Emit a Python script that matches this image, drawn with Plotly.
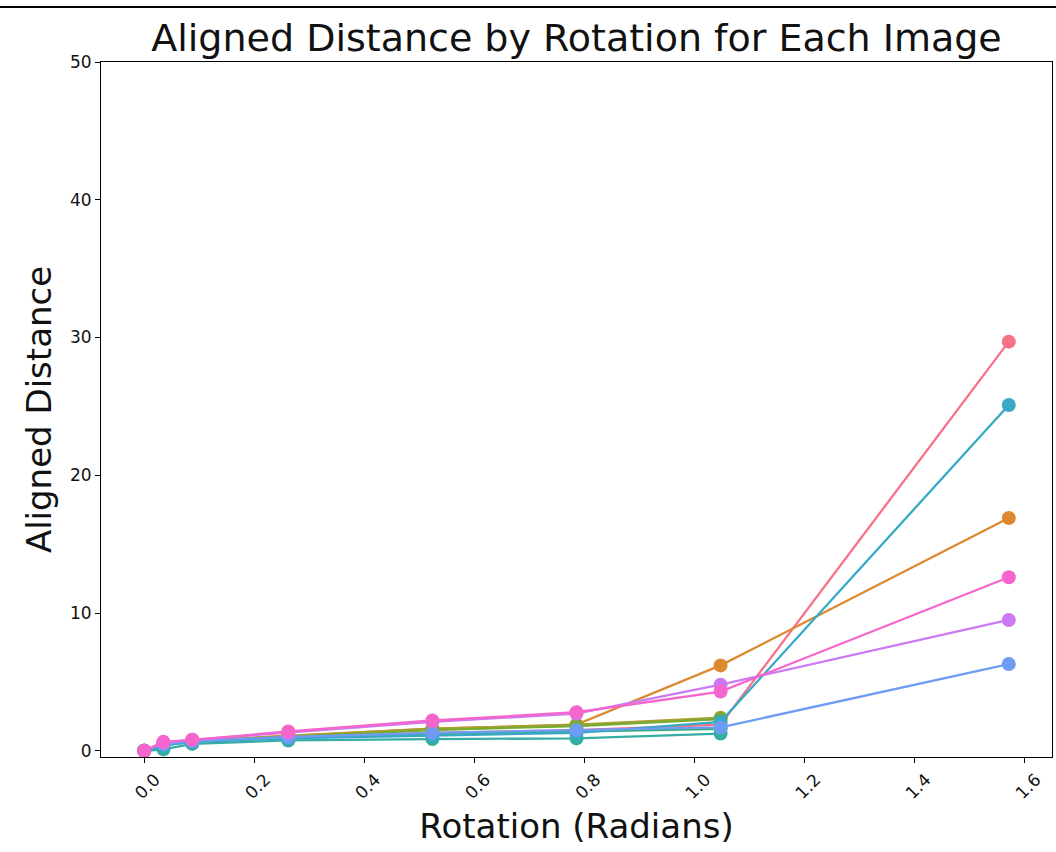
import plotly.graph_objects as go

rotation = [0.0, 0.0349, 0.0873, 0.2618, 0.5236, 0.7854, 1.0472, 1.5708]

series_names = ["img0", "img1", "img2", "img3", "img4", "img5", "img6", "img7", "img8", "img9"]
series_colors = ["#f77189", "#dc8932", "#ae9d31", "#77ab31", "#33b07a",
                 "#36ada4", "#38a9c5", "#6e9bf4", "#cc7af4", "#f565cc"]

img0 = [0, 0.45, 0.70, 1.00, 1.30, 1.50, 1.90, 29.7]
img1 = [0, 0.50, 0.75, 1.10, 1.60, 1.90, 6.20, 16.9]
img2 = [0, 0.50, 0.70, 1.05, 1.60, 1.90, 2.40, None]
img3 = [0, 0.45, 0.70, 1.00, 1.50, 1.80, 2.30, None]
img4 = [0, 0.40, 0.65, 0.95, 1.20, 1.40, 1.60, None]
img5 = [0, 0.10, 0.50, 0.75, 0.85, 0.90, 1.25, None]
img6 = [0, 0.40, 0.65, 0.90, 1.10, 1.30, 2.10, 25.1]
img7 = [0, 0.50, 0.70, 1.00, 1.30, 1.50, 1.70, 6.3]
img8 = [0, 0.60, 0.80, 1.30, 2.10, 2.70, 4.80, 9.5]
img9 = [0, 0.65, 0.80, 1.40, 2.20, 2.80, 4.30, 12.6]

all_series = [img0, img1, img2, img3, img4, img5, img6, img7, img8, img9]

x_ticks = [0.0, 0.2, 0.4, 0.6, 0.8, 1.0, 1.2, 1.4, 1.6]
y_ticks = [0, 10, 20, 30, 40, 50]

fig = go.Figure()
for name, color, vals in zip(series_names, series_colors, all_series):
    xs = [x for x, v in zip(rotation, vals) if v is not None]
    ys = [v for v in vals if v is not None]
    fig.add_trace(go.Scatter(
        x=xs, y=ys, mode="lines+markers", name=name,
        line=dict(color=color, width=2.3),
        marker=dict(color=color, size=14),
        showlegend=False,
    ))

axis_common = dict(
    showline=True, linecolor="black", linewidth=1, mirror=True,
    ticks="outside", ticklen=5, tickcolor="black", showgrid=False,
    zeroline=False, tickfont=dict(family="DejaVu Sans", size=17, color="#111"),
)

fig.update_layout(
    width=1056, height=852,
    paper_bgcolor="white", plot_bgcolor="white",
    margin=dict(l=101, r=4, t=62, b=95),
    title=dict(text="Aligned Distance by Rotation for Each Image",
               x=(101 + 1052) / 2 / 1056, xanchor="center",
               y=1 - 38 / 852, yanchor="middle",
               font=dict(family="DejaVu Sans", size=38, color="#111")),
    xaxis=dict(range=[-0.0785, 1.6493], tickvals=x_ticks,
               ticktext=[f"{t:.1f}" for t in x_ticks], tickangle=-45,
               ticklabelshift=11,
               title=dict(text="Rotation (Radians)", standoff=12,
                          font=dict(family="DejaVu Sans", size=34, color="#111")),
               **axis_common),
    yaxis=dict(range=[-0.45, 50], tickvals=y_ticks,
               title=dict(text="Aligned Distance", standoff=8,
                          font=dict(family="DejaVu Sans", size=34, color="#111")),
               **axis_common),
)

fig.add_shape(type="line", xref="paper", yref="paper",
              x0=-0.2, x1=1.1, y0=(852 - 95 - 7) / (852 - 62 - 95), y1=(852 - 95 - 7) / (852 - 62 - 95),
              line=dict(color="black", width=2))

fig.write_html("out.html")
